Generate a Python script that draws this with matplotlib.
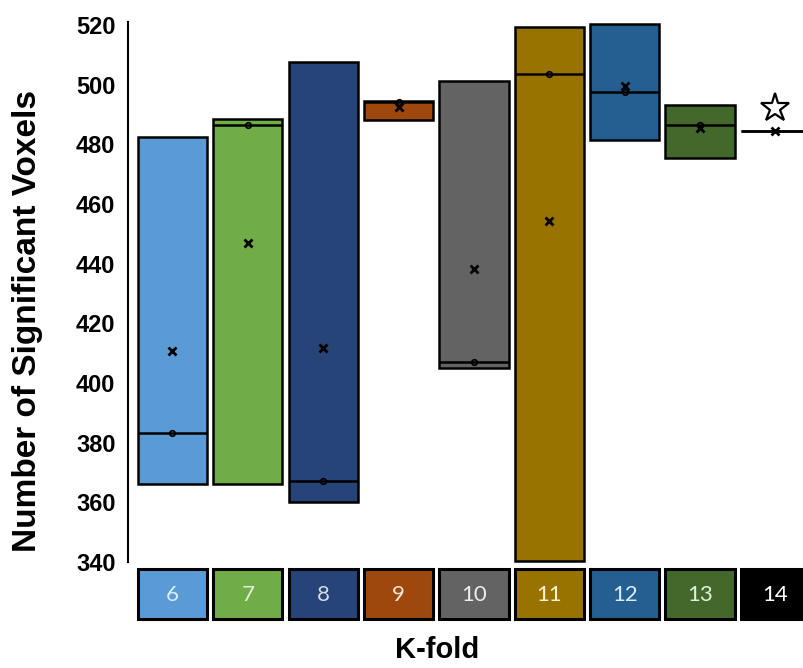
import matplotlib
matplotlib.use('Agg')
import matplotlib.pyplot as plt
import numpy as np

## values
kfold = ['6', '7', '8', '9', '10', '11', '12', '13', '14']
q_low = [366.0, 366.0, 360.2, 488.2, 405.0, 340.4, 481.5, 475.4, 484.5]
q_high = [482.5, 488.5, 507.6, 494.5, 501.2, 519.3, 520.3, 493.2, 484.5]
medians = [383.3, 486.5, 367.2, 494.3, 407.0, 503.6, 497.5, 486.5, 484.5]
means = [410.8, 447.0, 411.8, 492.5, 438.3, 454.3, 499.6, 485.5, 484.5]
best_fold = '14'
star_y = 492.2
yticks = [340, 360, 380, 400, 420, 440, 460, 480, 500, 520]

box_colors = ['#5B9BD5', '#70AD47', '#264478', '#9E480E', '#636363',
              '#997300', '#255E91', '#43682B', '#000000']
label_colors = ['#DDEBF7', '#E2F0D9', '#D6DCE5', '#FBE5D6', '#EDEDED',
                '#FFF2CC', '#DDEBF7', '#E2F0D9', '#FFFFFF']

fig = plt.figure(figsize=(8.04, 6.68), dpi=100)
ax = fig.add_axes([128/804, 103/668, 676/804, 545/668])
lab_ax = fig.add_axes([128/804, 46/668, 676/804, 56/668])

xpos = np.arange(len(kfold))
width = 0.92
ax.bar(xpos, np.array(q_high) - np.array(q_low), bottom=q_low, width=width,
       color=box_colors, edgecolor='black', linewidth=1.8, zorder=2)
ax.hlines(medians, xpos - width/2, xpos + width/2, color='black', linewidth=1.8, zorder=3)
ax.plot(xpos[:-1], medians[:-1], 'o', ms=4, mfc='none', mec='black', mew=1.2, zorder=4)
ax.plot(xpos, means, 'x', ms=6, color='black', mew=2, zorder=5)
i_best = kfold.index(best_fold)
ax.plot(xpos[i_best], star_y, marker='*', ms=21, mfc='white', mec='black', mew=1.6,
        zorder=5, clip_on=False)

ax.set_xlim(-0.59, 8.38)
ax.set_ylim(339.0, 521.67)
ax.set_yticks(yticks)
ax.set_yticklabels([str(t) for t in yticks], fontsize=17, fontweight='bold',
                   family='Liberation Sans')
ax.tick_params(axis='y', length=0, pad=9)
ax.set_xticks([])
for s in ['top', 'right', 'bottom']:
    ax.spines[s].set_visible(False)
ax.spines['left'].set_bounds(340, 521)
ax.spines['left'].set_linewidth(1.5)

fig.text(28/804, 1 - 321/668, 'Number of Significant Voxels', rotation=90,
         ha='center', va='center', fontsize=24, fontweight='bold',
         family='Liberation Sans')

## coloured fold labels under the boxes
lab_ax.set_xlim(-0.59, 8.38)
lab_ax.set_ylim(0, 1)
lab_ax.axis('off')
for i in range(len(kfold)):
    lab_ax.add_patch(plt.Rectangle((xpos[i] - width/2, 0.05), width, 0.9,
                                   facecolor=box_colors[i], edgecolor='black',
                                   linewidth=2.2, clip_on=False))
    lab_ax.text(xpos[i], 0.48, kfold[i], ha='center', va='center', fontsize=16,
                color=label_colors[i], family='Lato')

fig.text(437/804, 1 - 650/668, 'K-fold', ha='center', va='center', fontsize=21,
         fontweight='bold', family='Liberation Sans')

plt.savefig('out.png', dpi=100)
